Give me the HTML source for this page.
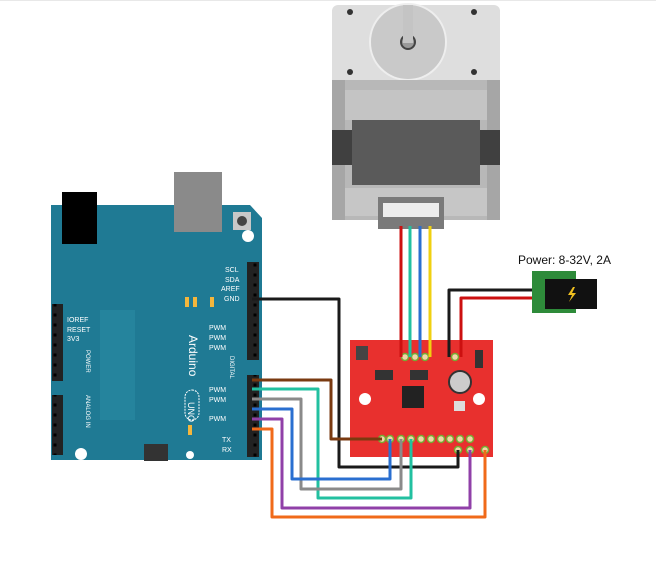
<!DOCTYPE html>
<html><head><style>body{margin:0;background:#fff}svg{display:block}</style></head><body>
<svg width="656" height="577" viewBox="0 0 656 577" xmlns="http://www.w3.org/2000/svg" font-family="Liberation Sans, sans-serif">
<defs>
<pattern id="pins" x="0" y="0" width="10" height="10" patternUnits="userSpaceOnUse"><rect width="10" height="10" fill="#222"/><rect x="3.5" y="3.5" width="3" height="3" fill="#000"/></pattern>
</defs>
<rect width="656" height="577" fill="#fff"/>
<line x1="0" y1="0.5" x2="656" y2="0.5" stroke="#e8e8e8"/>
<!-- Motor -->
<rect x="332" y="5" width="168" height="82" rx="6" fill="#dedede"/>
<circle cx="408" cy="42" r="38" fill="#c9c9c9" stroke="#eee" stroke-width="2"/>
<circle cx="408" cy="42" r="7" fill="#9a9a9a" stroke="#444" stroke-width="2"/>
<rect x="403" y="5" width="10" height="38" fill="#c4c4c4"/>
<circle cx="350" cy="72" r="3" fill="#333"/><circle cx="474" cy="72" r="3" fill="#333"/>
<circle cx="350" cy="12" r="3" fill="#333"/><circle cx="474" cy="12" r="3" fill="#333"/>
<rect x="332" y="80" width="168" height="140" fill="#b8b8b8"/>
<rect x="332" y="80" width="13" height="140" fill="#a6a6a6"/>
<rect x="487" y="80" width="13" height="140" fill="#a6a6a6"/>
<rect x="345" y="90" width="142" height="30" fill="#c4c4c4"/>
<rect x="332" y="130" width="168" height="35" fill="#404040"/>
<rect x="352" y="120" width="128" height="65" fill="#5a5a5a"/>
<rect x="345" y="188" width="142" height="28" fill="#c6c6c6"/>
<rect x="378" y="197" width="66" height="32" fill="#7a7a7a"/>
<rect x="383" y="203" width="56" height="14" fill="#ededed"/>
<!-- Arduino -->
<path d="M51 205 H250 L262 218 V460 H51 Z" fill="#1f7a94"/>
<rect x="62" y="192" width="35" height="52" fill="#000"/>
<rect x="174" y="172" width="48" height="60" fill="#8a8a8a"/>
<rect x="233" y="212" width="18" height="18" fill="#c8c8c8"/><circle cx="242" cy="221" r="5" fill="#444"/>
<circle cx="248" cy="236" r="6" fill="#fff"/><circle cx="81" cy="454" r="6" fill="#fff"/><circle cx="190" cy="455" r="4" fill="#fff"/>
<rect x="100" y="310" width="35" height="110" fill="#2a8aa4" opacity=".6"/>
<rect x="247" y="262" width="12" height="98" fill="url(#pins)"/>
<rect x="247" y="375" width="12" height="82" fill="url(#pins)"/>
<rect x="52" y="304" width="11" height="77" fill="url(#pins)"/>
<rect x="52" y="395" width="11" height="60" fill="url(#pins)"/>
<rect x="144" y="444" width="24" height="17" fill="#333"/>
<g fill="#f4b63c"><rect x="185" y="297" width="4" height="10"/><rect x="193" y="297" width="4" height="10"/><rect x="210" y="297" width="4" height="10"/><rect x="188" y="425" width="4" height="10"/></g>
<g fill="#fff" font-size="7">
<text x="225" y="272">SCL</text><text x="225" y="282">SDA</text><text x="221" y="291">AREF</text><text x="224" y="301">GND</text>
<text x="209" y="330">PWM</text><text x="209" y="340">PWM</text><text x="209" y="350">PWM</text>
<text x="209" y="392">PWM</text><text x="209" y="402">PWM</text><text x="209" y="421">PWM</text>
<text x="222" y="442">TX</text><text x="222" y="452">RX</text>
<text x="67" y="322">IOREF</text><text x="67" y="332">RESET</text><text x="67" y="341">3V3</text>
<text x="189" y="335" font-size="12" transform="rotate(90 189 335)">Arduino</text>
<text x="230" y="356" font-size="6" transform="rotate(90 230 356)">DIGITAL</text>
<text x="86" y="350" font-size="6" transform="rotate(90 86 350)">POWER</text>
<text x="86" y="395" font-size="6" transform="rotate(90 86 395)">ANALOG IN</text>
<text x="188" y="402" font-size="9" transform="rotate(90 188 402)">UNO</text>
</g>
<rect x="185" y="390" width="14" height="30" rx="7" fill="none" stroke="#fff" stroke-dasharray="2 1"/>
<!-- Driver board -->
<rect x="350" y="340" width="143" height="117" fill="#e8302e"/>
<rect x="402" y="386" width="22" height="22" fill="#222"/>
<rect x="375" y="370" width="18" height="10" fill="#333"/><rect x="410" y="370" width="18" height="10" fill="#333"/>
<circle cx="460" cy="382" r="11" fill="#ccc" stroke="#333" stroke-width="2"/>
<circle cx="365" cy="399" r="6" fill="#fff"/><circle cx="479" cy="399" r="6" fill="#fff"/>
<rect x="454" y="401" width="11" height="10" fill="#ddd"/>
<rect x="475" y="350" width="8" height="18" fill="#333"/>
<rect x="356" y="346" width="12" height="14" fill="#444"/>
<g fill="#f0d6a8" stroke="#7a3" stroke-width="1.5">
<circle cx="382" cy="439" r="3.5"/><circle cx="390" cy="439" r="3.5"/><circle cx="401" cy="439" r="3.5"/><circle cx="411" cy="439" r="3.5"/><circle cx="421" cy="439" r="3.5"/><circle cx="431" cy="439" r="3.5"/><circle cx="441" cy="439" r="3.5"/><circle cx="450" cy="439" r="3.5"/><circle cx="460" cy="439" r="3.5"/><circle cx="470" cy="439" r="3.5"/>
<circle cx="458" cy="450" r="3.5"/><circle cx="470" cy="450" r="3.5"/><circle cx="485" cy="450" r="3.5"/>
<circle cx="405" cy="357" r="3.5"/><circle cx="415" cy="357" r="3.5"/><circle cx="425" cy="357" r="3.5"/><circle cx="455" cy="357" r="3.5"/>
</g>
<!-- wires -->
<g fill="none" stroke-width="3" stroke-linejoin="round">
<polyline points="252,299 339,299 339,467 458,467 458,450" stroke="#1a1a1a"/>
<polyline points="252,380 331,380 331,439 382,439" stroke="#7a3a10"/>
<polyline points="252,389 318,389 318,498 411,498 411,439" stroke="#22c0a0"/>
<polyline points="252,399 301,399 301,489 401,489 401,439" stroke="#8a8a8a"/>
<polyline points="252,409 292,409 292,479 390,479 390,439" stroke="#2a6fd0"/>
<polyline points="252,419 282,419 282,508 470,508 470,450" stroke="#9040a8"/>
<polyline points="252,429 272,429 272,517 485,517 485,450" stroke="#f06a1a"/>
<line x1="401" y1="226" x2="401" y2="357" stroke="#cc1010"/>
<line x1="410" y1="226" x2="410" y2="357" stroke="#22c0a0"/>
<line x1="420" y1="226" x2="420" y2="357" stroke="#2a6fd0"/>
<line x1="430" y1="226" x2="430" y2="357" stroke="#f0d010"/>
<polyline points="534,290 449,290 449,357" stroke="#1a1a1a"/>
<polyline points="534,298 461,298 461,357" stroke="#cc1010"/>
</g>
<!-- power jack -->
<rect x="532" y="271" width="44" height="42" fill="#2e8b3a"/>
<rect x="545" y="279" width="52" height="30" fill="#111"/>
<path d="M573 287 l-5 8 h4 l-3 7 l7 -9 h-4 l3 -6z" fill="#f0c020"/>
<text x="518" y="264" font-size="12" fill="#111">Power: 8-32V, 2A</text>
</svg>
</body></html>
